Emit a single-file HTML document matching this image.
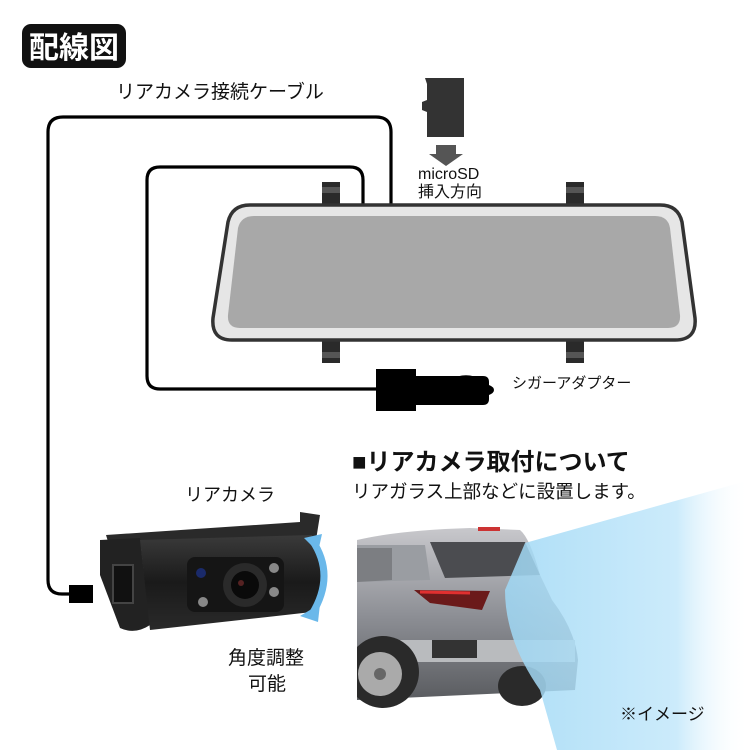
<!DOCTYPE html>
<html><head><meta charset="utf-8"><style>
html,body{margin:0;padding:0;background:#fff}
svg{display:block}
text{font-family:"Liberation Sans","Noto Sans CJK JP",sans-serif;fill:#111}
</style></head><body>
<svg width="750" height="750" viewBox="0 0 750 750" xmlns="http://www.w3.org/2000/svg">
<defs>
<linearGradient id="beam" x1="0" y1="0" x2="1" y2="0">
<stop offset="0" stop-color="#9fd8f5" stop-opacity="0.85"/>
<stop offset="0.7" stop-color="#bfe6fa" stop-opacity="0.8"/>
<stop offset="1" stop-color="#ffffff" stop-opacity="0"/>
</linearGradient>
<linearGradient id="carbody" x1="0" y1="0" x2="0" y2="1">
<stop offset="0" stop-color="#c8c8cc"/><stop offset="0.5" stop-color="#8e9096"/><stop offset="1" stop-color="#5a5c60"/>
</linearGradient>
<linearGradient id="cam" x1="0" y1="0" x2="0" y2="1">
<stop offset="0" stop-color="#3a3a3a"/><stop offset="0.5" stop-color="#1a1a1a"/><stop offset="1" stop-color="#2a2a2a"/>
</linearGradient>
<clipPath id="carclip"><rect x="357" y="520" width="300" height="200"/></clipPath>
</defs>

<!-- title -->
<rect x="22" y="24" width="104" height="44" rx="9" fill="#111"/>
<text x="74" y="58" font-size="30" font-weight="bold" text-anchor="middle" style="fill:#fff">配線図</text>

<text x="116" y="98" font-size="19">リアカメラ接続ケーブル</text>

<!-- cables -->
<path d="M391 207 V132 Q391 117 376 117 H63 Q48 117 48 132 V580 Q48 594 62 594 H72" fill="none" stroke="#000" stroke-width="3.2"/>
<path d="M363 207 V180 Q363 167 350 167 H160 Q147 167 147 180 V376 Q147 389 160 389 H378" fill="none" stroke="#000" stroke-width="3.2"/>
<rect x="69" y="585" width="24" height="18" fill="#000"/>

<!-- mirror tabs -->
<rect x="322" y="182" width="18" height="26" fill="#2a2a2a"/>
<rect x="322" y="187" width="18" height="6" fill="#555"/>
<rect x="566" y="182" width="18" height="26" fill="#2a2a2a"/>
<rect x="566" y="187" width="18" height="6" fill="#555"/>
<rect x="322" y="336" width="18" height="27" fill="#2a2a2a"/>
<rect x="322" y="352" width="18" height="6" fill="#555"/>
<rect x="566" y="336" width="18" height="27" fill="#2a2a2a"/>
<rect x="566" y="352" width="18" height="6" fill="#555"/>
<rect x="442" y="336" width="22" height="5" fill="#333"/>

<!-- mirror -->
<path d="M250 205 H660 Q678 205 682 222 L695 318 Q697 340 675 340 H232 Q211 340 213 318 L228 222 Q232 205 250 205 Z" fill="#e6e6e6" stroke="#333" stroke-width="3.5"/>
<path d="M254 216 H655 Q668 216 670 228 L680 315 Q681 328 668 328 H240 Q227 328 228 315 L238 228 Q241 216 254 216 Z" fill="#a8a8a8"/>

<!-- microSD -->
<path d="M425 78 H464 V137 H427 V112 L422 110 V102 L427 100 V84 Z" fill="#333"/>
<path d="M436 145 H456 V154 H463 L446 166 L429 154 H436 Z" fill="#555"/>
<text x="418" y="179" font-size="16">microSD</text>
<text x="418" y="197" font-size="16">挿入方向</text>

<!-- cigar adapter -->
<rect x="376" y="369" width="40" height="42" fill="#000"/>
<path d="M416 376 H483 Q489 376 489 382 V385 Q494 387 494 390 Q494 393 489 395 V399 Q489 405 483 405 H416 Z" fill="#000"/>
<ellipse cx="466" cy="390" rx="19" ry="14" fill="none" stroke="#000" stroke-width="1.5"/>
<text x="512" y="388" font-size="15">シガーアダプター</text>

<!-- heading -->
<text x="352" y="470" font-size="24" font-weight="bold">■リアカメラ取付について</text>
<text x="352" y="498" font-size="18.5">リアガラス上部などに設置します。</text>

<!-- camera -->
<text x="185" y="501" font-size="18">リアカメラ</text>
<path d="M106 535 L300 522 L300 512 L320 515 L316 540 L110 548 Z" fill="#2a2a2a"/>
<path d="M100 540 L140 538 L150 625 Q135 635 120 628 L100 575 Z" fill="#222"/>
<path d="M140 540 L312 535 Q330 575 312 612 L150 630 Z" fill="url(#cam)"/>
<rect x="113" y="565" width="20" height="38" fill="#111" stroke="#444" stroke-width="2"/>
<rect x="187" y="557" width="97" height="55" rx="8" fill="#151515"/>
<circle cx="245" cy="585" r="22" fill="#2a2a2a"/>
<circle cx="245" cy="585" r="14" fill="#0a0a0a"/>
<circle cx="241" cy="583" r="3" fill="#522"/>
<circle cx="201" cy="573" r="5" fill="#1a2a6a"/>
<circle cx="274" cy="568" r="5" fill="#888"/>
<circle cx="274" cy="592" r="5" fill="#888"/>
<circle cx="203" cy="602" r="5" fill="#888"/>
<!-- blue rotate arrow -->
<path d="M312 540 Q336 575 312 614" fill="none" stroke="#6ab8ea" stroke-width="7"/>
<path d="M304 538 L322 534 L318 552 Z" fill="#6ab8ea"/>
<path d="M300 616 L320 604 L318 622 Z" fill="#6ab8ea"/>
<text x="228" y="664" font-size="19">角度調整</text>
<text x="248" y="690" font-size="19">可能</text>

<!-- car -->
<g clip-path="url(#carclip)">
<path d="M357 540 Q400 530 470 528 L520 530 Q530 538 540 575 L552 600 Q575 630 578 660 L575 690 L357 700 Z" fill="url(#carbody)"/>
<path d="M357 545 L425 545 L430 580 L357 582 Z" fill="#9a9da2"/>
<path d="M357 548 L392 548 L392 580 L357 582 Z" fill="#7c7e82"/>
<path d="M430 542 H525 L540 575 L445 578 Z" fill="#4b4c50"/>
<path d="M414 590 L490 591 L482 610 L430 603 Z" fill="#6b1a1a"/>
<path d="M420 592 L470 593" stroke="#e03030" stroke-width="3"/>
<rect x="478" y="527" width="22" height="4" fill="#c33"/>
<rect x="400" y="640" width="175" height="22" fill="#b9bbbe"/>
<rect x="432" y="640" width="45" height="18" fill="#333"/>
<circle cx="383" cy="672" r="36" fill="#2a2a2a"/>
<circle cx="380" cy="674" r="22" fill="#aaa"/>
<circle cx="380" cy="674" r="6" fill="#666"/>
<ellipse cx="522" cy="686" rx="24" ry="20" fill="#2a2a2a"/>
</g>
<!-- beam -->
<path d="M525 543 L750 480 L750 750 L557 750 L540 690 Q505 640 505 590 Z" fill="url(#beam)"/>
<text x="620" y="720" font-size="17">※イメージ</text>
</svg>
</body></html>
